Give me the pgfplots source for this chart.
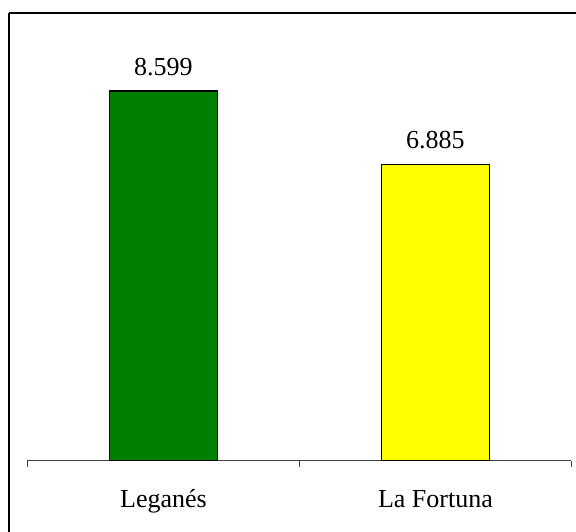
\documentclass[border=0pt]{standalone}
\usepackage{fontspec}
\setmainfont{Liberation Serif}
\usepackage{pgfplots}
\pgfplotsset{compat=1.18}

\definecolor{bargreen}{RGB}{0,128,0}
\definecolor{baryellow}{RGB}{255,255,0}

\begin{document}
\begin{tikzpicture}
\useasboundingbox (0,0) rectangle (432pt,399pt);
\begin{axis}[
    at={(20.6pt,53.6pt)},
    anchor=south west,
    scale only axis,
    width=408pt,
    height=322.3pt,
    ybar,
    bar width=81pt,
    bar shift=0pt,
    xmin=-0.5, xmax=1.5,
    ymin=0, ymax=10,
    axis x line=bottom,
    axis y line=none,
    axis line style={-, draw=black!75, line width=0.8pt},
    xtick={0,1},
    xticklabels={Leganés, La Fortuna},
    major tick length=0pt,
    xticklabel style={anchor=base, yshift=-35pt, font=\fontsize{19.5}{23}\selectfont},
    extra x ticks={-0.5,0.5,1.5},
    extra x tick labels={},
    extra x tick style={major tick length=5pt, tick align=outside,
        tick style={draw=black!75, line width=0.8pt}},
    clip=false,
    nodes near coords,
    point meta=explicit symbolic,
    every node near coord/.append style={anchor=base, yshift=12pt,
        font=\fontsize{19.5}{23}\selectfont, text=black},
]
\addplot[fill=bargreen, draw=black, line width=1.1pt] coordinates {(0,8.599) [8.599]};
\addplot[fill=baryellow, draw=black, line width=1.1pt] coordinates {(1,6.885) [6.885]};
\end{axis}
\draw[line width=1.2pt] (6.75pt,389.25pt) -- (445pt,389.25pt);
\draw[line width=1.2pt] (6.75pt,389.25pt) -- (6.75pt,-10pt);
\end{tikzpicture}
\end{document}
